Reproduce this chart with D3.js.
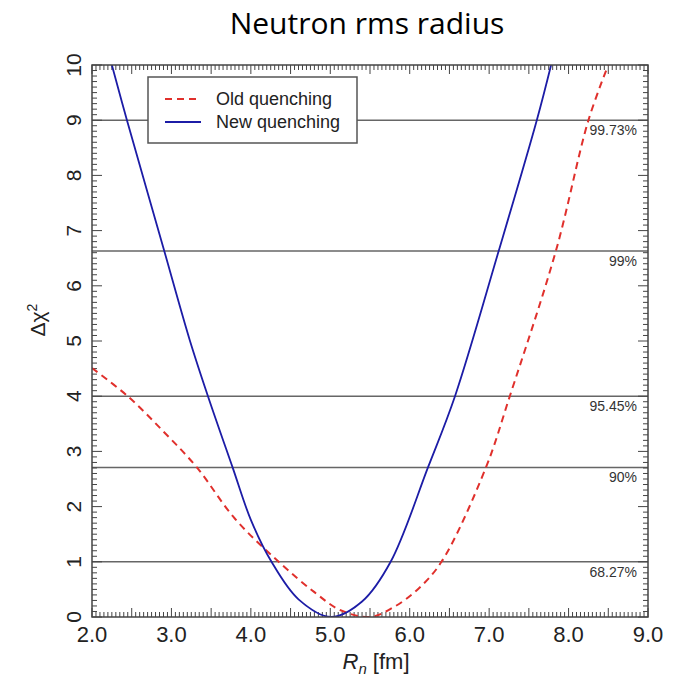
<!DOCTYPE html>
<html>
<head>
<meta charset="utf-8">
<script src="https://cdn.jsdelivr.net/npm/d3@7"></script>
<style>
  body { margin: 0; background: #fff; }
  text { font-family: "Liberation Sans", Arial, sans-serif; }
</style>
</head>
<body>
<div id="viz"></div>
<script>
// curve readings, Rn [fm] vs delta chi^2
const oldX = [2.0, 2.45, 2.9, 3.32, 3.8, 4.35, 4.8, 5.12, 5.5, 5.8, 6.1, 6.4, 6.96, 7.26, 7.84, 8.25, 8.5];
const oldY = [4.51, 4.0, 3.36, 2.71, 1.78, 1.0, 0.45, 0.13, 0.0, 0.18, 0.5, 1.0, 2.71, 4.0, 6.63, 9.0, 10.0];
const newX = [2.25, 2.44, 2.91, 3.23, 3.46, 3.77, 4.0, 4.26, 4.6, 5.01, 5.4, 5.76, 6.23, 6.57, 7.12, 7.6, 7.78];
const newY = [10.0, 9.0, 6.63, 5.02, 4.0, 2.71, 1.76, 1.0, 0.32, 0.0, 0.28, 1.0, 2.71, 4.0, 6.63, 9.0, 10.0];

const clLevels = [1.0, 2.71, 4.0, 6.63, 9.0];
const clLabels = ['68.27%', '90%', '95.45%', '99%', '99.73%'];
const xTicks = [2, 3, 4, 5, 6, 7, 8, 9];
const yTicks = [0, 1, 2, 3, 4, 5, 6, 7, 8, 9, 10];
const seriesNames = ['Old quenching', 'New quenching'];

const width = 679;
const height = 681;
const margin = { top: 65, right: 31, bottom: 64, left: 92 };
const w = width - margin.left - margin.right;
const h = height - margin.top - margin.bottom;

const svg = d3.select('#viz')
  .append('svg')
  .attr('width', width)
  .attr('height', height);

const x = d3.scaleLinear().domain([2, 9]).range([0, w]);
const y = d3.scaleLinear().domain([0, 10]).range([h, 0]);

svg.append('text')
  .attr('x', 367)
  .attr('y', 34)
  .attr('text-anchor', 'middle')
  .style('font-family', '"Open Sans", Lato, sans-serif')
  .style('font-size', '30px')
  .text('Neutron rms radius');

const g = svg.append('g')
  .attr('transform', `translate(${margin.left},${margin.top})`);

g.append('clipPath').attr('id', 'clip')
  .append('rect').attr('width', w).attr('height', h);

// confidence level lines
g.selectAll('.cl')
  .data(clLevels)
  .enter()
  .append('line')
  .attr('x1', 0)
  .attr('x2', w)
  .attr('y1', d => y(d))
  .attr('y2', d => y(d))
  .attr('stroke', '#666')
  .attr('stroke-width', 1.5);

g.selectAll('.cl-label')
  .data(clLevels)
  .enter()
  .append('text')
  .attr('x', w - 11)
  .attr('y', d => y(d) + 15)
  .attr('text-anchor', 'end')
  .style('font-size', '14px')
  .attr('fill', '#333')
  .text((d, i) => clLabels[i]);

// ticks, inward on all four sides
const xMinor = d3.range(2, 9.001, 0.05);
const yMinor = d3.range(0, 10.001, 0.1);
const isHalf = v => Math.abs(v * 2 - Math.round(v * 2)) < 1e-6;
const isInt = v => Math.abs(v - Math.round(v)) < 1e-6;

const tickG = g.append('g').attr('stroke', '#444').attr('stroke-width', 1);
xMinor.forEach(v => {
  const len = isHalf(v) ? 9 : 5;
  tickG.append('line').attr('x1', x(v)).attr('x2', x(v)).attr('y1', h).attr('y2', h - len);
  tickG.append('line').attr('x1', x(v)).attr('x2', x(v)).attr('y1', 0).attr('y2', len);
});
yMinor.forEach(v => {
  const len = isInt(v) ? 10 : 5;
  tickG.append('line').attr('x1', 0).attr('x2', len).attr('y1', y(v)).attr('y2', y(v));
  tickG.append('line').attr('x1', w).attr('x2', w - len).attr('y1', y(v)).attr('y2', y(v));
});

// curves
const line = d3.line()
  .x(d => x(d[0]))
  .y(d => y(d[1]))
  .curve(d3.curveCatmullRom.alpha(0.5));

const oldPts = oldX.map((v, i) => [v, oldY[i]]);
const newPts = newX.map((v, i) => [v, newY[i]]);

const curves = g.append('g').attr('clip-path', 'url(#clip)');
curves.append('path')
  .datum(oldPts)
  .attr('d', line)
  .attr('fill', 'none')
  .attr('stroke', '#e0302c')
  .attr('stroke-width', 2)
  .attr('stroke-dasharray', '7,5');
curves.append('path')
  .datum(newPts)
  .attr('d', line)
  .attr('fill', 'none')
  .attr('stroke', '#1c1ca6')
  .attr('stroke-width', 1.8);

// frame
g.append('rect')
  .attr('width', w)
  .attr('height', h)
  .attr('fill', 'none')
  .attr('stroke', '#444')
  .attr('stroke-width', 1.5);

// tick labels
g.selectAll('.xlab')
  .data(xTicks)
  .enter()
  .append('text')
  .attr('x', d => x(d))
  .attr('y', h + 25)
  .attr('text-anchor', 'middle')
  .style('font-size', '22px')
  .attr('fill', '#222')
  .text(d => d.toFixed(1));

g.selectAll('.ylab')
  .data(yTicks)
  .enter()
  .append('text')
  .attr('transform', d => `translate(-18,${y(d)}) rotate(-90)`)
  .attr('dy', '0.35em')
  .attr('text-anchor', 'middle')
  .style('font-size', '21px')
  .attr('fill', '#222')
  .text(d => d);

// axis titles
const xt = svg.append('text')
  .attr('x', 376)
  .attr('y', 669)
  .attr('text-anchor', 'middle')
  .style('font-size', '22px')
  .attr('fill', '#222');
xt.append('tspan').style('font-style', 'italic').text('R');
xt.append('tspan').attr('dy', 5).style('font-size', '15px').style('font-style', 'italic').text('n');
xt.append('tspan').attr('dy', -5).text(' [fm]');

const yt = svg.append('text')
  .attr('transform', 'translate(45,320) rotate(-90)')
  .attr('text-anchor', 'middle')
  .style('font-size', '21px')
  .attr('fill', '#222');
yt.append('tspan').text('\u0394\u03c7');
yt.append('tspan').attr('dy', -8).style('font-size', '14px').text('2');

// legend
const lg = g.append('g').attr('transform', 'translate(56,12)');
lg.append('rect')
  .attr('width', 209)
  .attr('height', 66)
  .attr('fill', '#fff')
  .attr('stroke', '#555')
  .attr('stroke-width', 1.5);
const legendStyles = [
  { stroke: '#e0302c', dash: '7,5', width: 2 },
  { stroke: '#1c1ca6', dash: null, width: 1.8 }
];
seriesNames.forEach((name, i) => {
  const ly = 22 + i * 23;
  lg.append('line')
    .attr('x1', 17).attr('x2', 53)
    .attr('y1', ly).attr('y2', ly)
    .attr('stroke', legendStyles[i].stroke)
    .attr('stroke-width', legendStyles[i].width)
    .attr('stroke-dasharray', legendStyles[i].dash);
  lg.append('text')
    .attr('x', 68)
    .attr('y', ly + 6)
    .style('font-size', '18px')
    .attr('fill', '#222')
    .text(name);
});
</script>
</body>
</html>
